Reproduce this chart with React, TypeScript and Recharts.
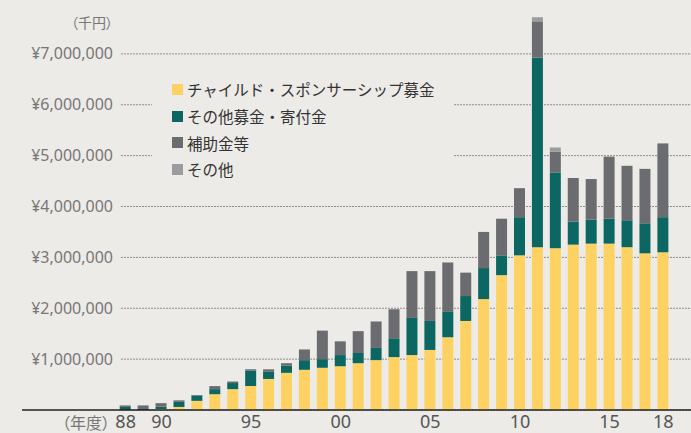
import React from 'react';
import { BarChart, Bar, XAxis, YAxis, CartesianGrid, Legend } from 'recharts';

// fiscal years 1988-2018 (two-digit labels)
const YEARS = [
  '88', '89', '90', '91', '92', '93', '94', '95', '96', '97',
  '98', '99', '00', '01', '02', '03', '04', '05', '06', '07',
  '08', '09', '10', '11', '12', '13', '14', '15', '16', '17', '18',
];
const LABELED_YEARS = ['88', '90', '95', '00', '05', '10', '15', '18'];

// 千円
const CHILD_SPONSOR = [
  0, 0, 20000, 60000, 180000, 310000, 410000, 470000, 610000, 730000,
  790000, 830000, 860000, 920000, 980000, 1040000, 1080000, 1180000, 1430000, 1750000,
  2180000, 2650000, 3040000, 3200000, 3180000, 3250000, 3270000, 3270000, 3200000, 3080000, 3100000,
];
const OTHER_DONATION = [
  60000, 20000, 45000, 100000, 100000, 100000, 120000, 300000, 140000, 140000,
  190000, 170000, 220000, 200000, 240000, 370000, 730000, 570000, 510000, 490000,
  610000, 390000, 750000, 3730000, 1490000, 450000, 470000, 490000, 530000, 590000, 690000,
];
const SUBSIDY = [
  30000, 70000, 70000, 30000, 15000, 60000, 30000, 30000, 50000, 50000,
  210000, 560000, 270000, 430000, 520000, 570000, 920000, 980000, 960000, 460000,
  710000, 720000, 570000, 710000, 410000, 860000, 800000, 1220000, 1070000, 1070000, 1450000,
];
const OTHER = [
  0, 0, 0, 0, 0, 0, 0, 0, 0, 0,
  0, 0, 0, 0, 0, 0, 0, 0, 0, 0,
  0, 0, 0, 80000, 80000, 0, 0, 0, 0, 0, 0,
];

const Y_TICKS = [0, 1000000, 2000000, 3000000, 4000000, 5000000, 6000000, 7000000];

const SERIES = [
  { key: 'child', name: 'チャイルド・スポンサーシップ募金', color: '#FDD262' },
  { key: 'donation', name: 'その他募金・寄付金', color: '#0C6762' },
  { key: 'subsidy', name: '補助金等', color: '#6B6C6F' },
  { key: 'other', name: 'その他', color: '#9C9C9E' },
];

const BG = '#ECEBE7';
const JP_FONT = '"Noto Sans CJK JP", "Noto Sans", sans-serif';
const GRID_LEFT = 121;

const data = YEARS.map((year, i) => ({
  year,
  child: CHILD_SPONSOR[i],
  donation: OTHER_DONATION[i],
  subsidy: SUBSIDY[i],
  other: OTHER[i],
}));

const YTick = ({ y, payload }: any) => {
  if (!payload.value) return <g />;
  return (
    <text x={113} y={y} dy={5.5} textAnchor="end" fill="#777" fontSize={16} fontFamily='"Noto Sans", sans-serif'>
      ¥{payload.value.toLocaleString('en-US')}
    </text>
  );
};

// dotted grid lines start right of the tick labels; no line on the plot's top edge
const GridLine = (p: any) => {
  if (p.y1 < 10) return <g key={p.key} />;
  return <line key={p.key} x1={GRID_LEFT} y1={p.y1} x2={p.x2} y2={p.y2} stroke="#8d8d8d" strokeDasharray="2 1" />;
};

const LegendBox = () => (
  <div style={{ fontFamily: JP_FONT }}>
    {SERIES.map((s) => (
      <div key={s.key} style={{ display: 'flex', alignItems: 'center', height: 26.7 }}>
        <span style={{ width: 11, height: 11, background: s.color, marginRight: 4 }} />
        <span style={{ fontSize: 15.5, color: '#333' }}>{s.name}</span>
      </div>
    ))}
  </div>
);

export default function App() {
  return (
    <div style={{ position: 'absolute', left: 0, top: 0, width: 691, height: 433, background: BG }}>
      <BarChart width={691} height={433} data={data} margin={{ top: 3, right: 0, bottom: 0, left: 0 }}>
        <CartesianGrid vertical={false} horizontal={GridLine} />
        <YAxis width={22} domain={[0, 8000000]} ticks={Y_TICKS} axisLine={false} tickLine={false} tick={<YTick />} />
        {SERIES.map((s) => (
          <Bar key={s.key} dataKey={s.key} name={s.name} stackId="a" fill={s.color} barSize={11} isAnimationActive={false} />
        ))}
        <XAxis
          dataKey="year"
          height={23}
          interval={0}
          padding={{ left: 94.7, right: 18.7 }}
          tickLine={false}
          tickSize={0}
          tickMargin={5}
          axisLine={{ stroke: '#222', strokeWidth: 1.5 }}
          tick={{ fill: '#555', fontSize: 18, fontFamily: '"Noto Sans", sans-serif' }}
          tickFormatter={(v: string) => (LABELED_YEARS.includes(v) ? v : '')}
        />
        <Legend
          layout="horizontal"
          verticalAlign="middle"
          align="center"
          content={<LegendBox />}
          wrapperStyle={{ left: 152, top: 72, width: 302, height: 116, background: BG, padding: '4px 0 0 20px', boxSizing: 'border-box' }}
        />
      </BarChart>
      <span style={{ position: 'absolute', right: 578, top: 12, fontSize: 14, color: '#777', fontFamily: JP_FONT, fontFeatureSettings: '"palt"', whiteSpace: 'nowrap' }}>
        （千円）
      </span>
      <span style={{ position: 'absolute', left: 62, top: 410, fontSize: 16, color: '#777', fontFamily: JP_FONT, fontFeatureSettings: '"palt"', whiteSpace: 'nowrap' }}>
        （年度）
      </span>
    </div>
  );
}
